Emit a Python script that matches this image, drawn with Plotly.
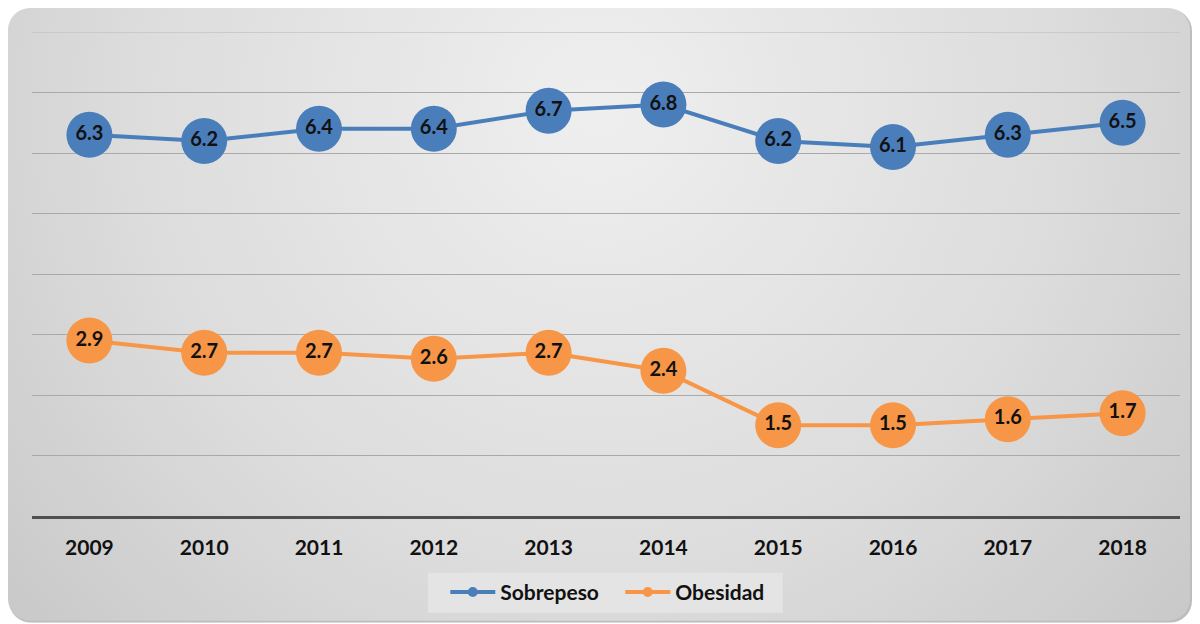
import base64
import plotly.graph_objects as go

years = ["2009", "2010", "2011", "2012", "2013", "2014", "2015", "2016", "2017", "2018"]
sobrepeso = [6.3, 6.2, 6.4, 6.4, 6.7, 6.8, 6.2, 6.1, 6.3, 6.5]
obesidad = [2.9, 2.7, 2.7, 2.6, 2.7, 2.4, 1.5, 1.5, 1.6, 1.7]

BLUE = "#4a7ebb"
ORANGE = "#f79646"
FONT = "Lato"

W, H = 1184, 616
ML, MR, MT, MB = 24, 12, 24, 107
PW, PH = W - ML - MR, H - MT - MB

svg = (
    f'<svg xmlns="http://www.w3.org/2000/svg" width="{W}" height="{H}" viewBox="0 0 {W} {H}">'
    '<defs><radialGradient id="g" gradientUnits="userSpaceOnUse" cx="590" cy="100" r="860">'
    '<stop offset="0" stop-color="#efefef"/><stop offset="0.55" stop-color="#dcdcdc"/>'
    '<stop offset="1" stop-color="#c4c4c4"/></radialGradient></defs>'
    f'<rect x="1" y="1" width="{W-1}" height="{H-1}" rx="22" fill="#bdbdbd"/>'
    f'<rect x="0" y="0" width="{W-2}" height="{H-2}" rx="22" fill="url(#g)"/>'
    '</svg>'
)
src = "data:image/svg+xml;base64," + base64.b64encode(svg.encode()).decode()

fig = go.Figure()

for name, vals, col in [("Sobrepeso", sobrepeso, BLUE), ("Obesidad", obesidad, ORANGE)]:
    fig.add_trace(go.Scatter(
        x=years, y=vals, name=name, mode="lines+markers+text",
        line=dict(color=col, width=4),
        marker=dict(color=col, size=46, line=dict(width=0)),
        text=[f"{v:.1f}" for v in vals], textposition="middle center",
        textfont=dict(family=FONT, size=20, color="#111111", weight="bold"),
        cliponaxis=False, showlegend=False,
    ))

# legend entries (small markers as in the reference legend)
for name, col in [("Sobrepeso", BLUE), ("Obesidad", ORANGE)]:
    fig.add_trace(go.Scatter(
        x=[None], y=[None], name=name, mode="lines+markers",
        line=dict(color=col, width=4), marker=dict(color=col, size=10),
        showlegend=True,
    ))

fig.update_layout(
    width=W, height=H,
    margin=dict(l=ML, r=MR, t=MT, b=MB),
    paper_bgcolor="white", plot_bgcolor="rgba(0,0,0,0)",
    images=[dict(source=src, xref="paper", yref="paper",
                 x=-ML / PW, y=1 + MT / PH, sizex=W / PW, sizey=H / PH,
                 xanchor="left", yanchor="top", sizing="stretch", layer="below")],
    shapes=[
        # top gridline (value 8) at the plot edge
        dict(type="line", xref="paper", yref="y", x0=0, x1=1, y0=8, y1=8,
             line=dict(color="#c4c4c4", width=1.3), layer="below"),
        # legend box
        dict(type="rect", xref="paper", yref="paper", x0=0.345, x1=0.654,
             y0=-0.2, y1=-0.1175, fillcolor="#e4e4e4", line=dict(width=0), layer="below"),
    ],
    showlegend=True,
    legend=dict(orientation="h", x=0.36, xanchor="left", y=-0.113, yanchor="top",
                bgcolor="rgba(0,0,0,0)", font=dict(family=FONT, size=21, color="#111111", weight="bold"),
                itemwidth=45, borderwidth=0, entrywidth=115, entrywidthmode="pixels"),
    xaxis=dict(type="category", range=[-0.5, 9.5], showgrid=False,
               showline=True, linecolor="#505050", linewidth=3,
               ticks="outside", ticklen=11, tickcolor="rgba(0,0,0,0)",
               tickfont=dict(family=FONT, size=21, color="#111111", weight="bold")),
    yaxis=dict(range=[0, 8], dtick=1, showticklabels=False, showgrid=True,
               gridcolor="#a9a9a9", gridwidth=1.3, zeroline=False, showline=False),
)

fig.write_html("out.html")
